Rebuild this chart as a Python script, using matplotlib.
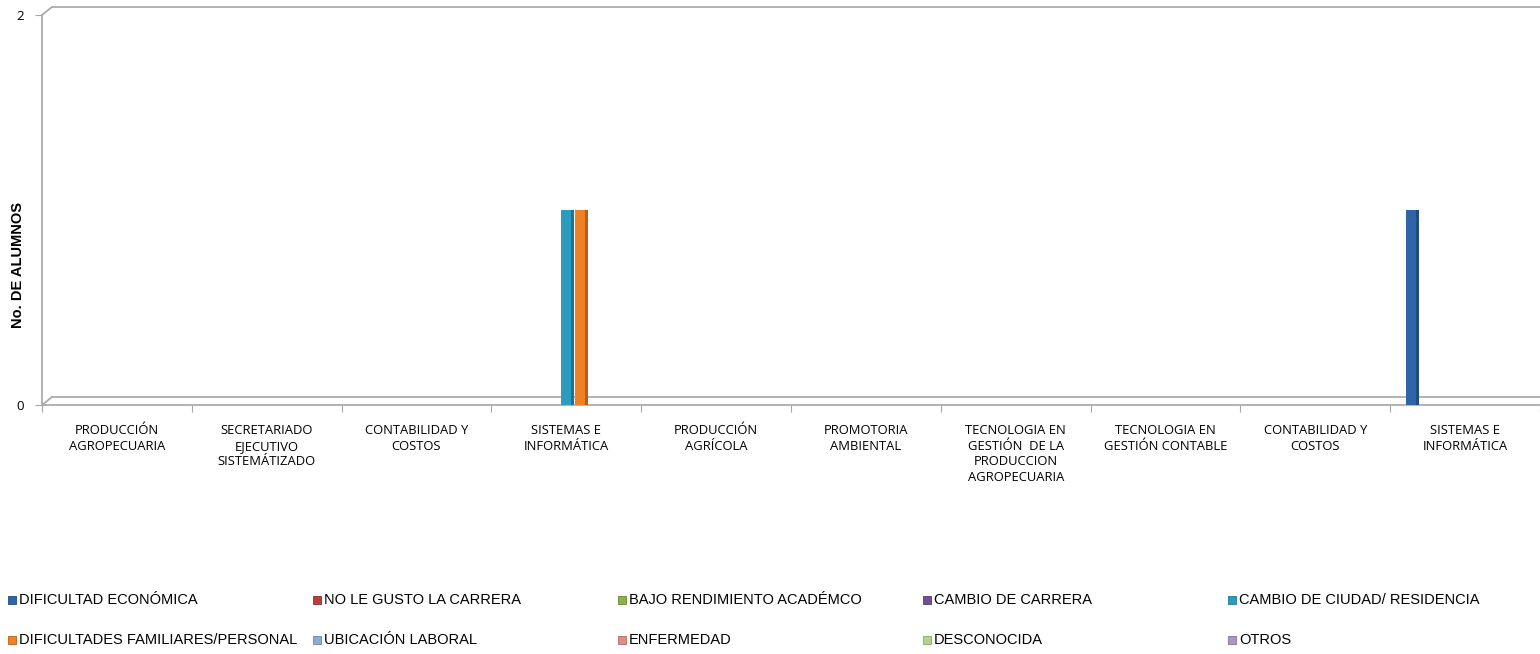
import numpy as np
import matplotlib
matplotlib.use("Agg")
import matplotlib.pyplot as plt
from matplotlib.patches import Rectangle
from matplotlib.transforms import offset_copy

categorias = ["PRODUCCIÓN\nAGROPECUARIA", "SECRETARIADO\nEJECUTIVO\nSISTEMÁTIZADO",
              "CONTABILIDAD Y\nCOSTOS", "SISTEMAS E\nINFORMÁTICA", "PRODUCCIÓN\nAGRÍCOLA",
              "PROMOTORIA\nAMBIENTAL",
              "TECNOLOGIA EN\nGESTIÓN  DE LA\nPRODUCCION\nAGROPECUARIA",
              "TECNOLOGIA EN\nGESTIÓN CONTABLE", "CONTABILIDAD Y\nCOSTOS",
              "SISTEMAS E\nINFORMÁTICA"]

series = ["DIFICULTAD ECONÓMICA", "NO LE GUSTO LA CARRERA", "BAJO RENDIMIENTO ACADÉMCO",
          "CAMBIO DE CARRERA", "CAMBIO DE CIUDAD/ RESIDENCIA",
          "DIFICULTADES FAMILIARES/PERSONAL", "UBICACIÓN LABORAL", "ENFERMEDAD",
          "DESCONOCIDA", "OTROS"]

dificultad_economica = [0, 0, 0, 0, 0, 0, 0, 0, 0, 1]
no_le_gusto = [0, 0, 0, 0, 0, 0, 0, 0, 0, 0]
bajo_rendimiento = [0, 0, 0, 0, 0, 0, 0, 0, 0, 0]
cambio_carrera = [0, 0, 0, 0, 0, 0, 0, 0, 0, 0]
cambio_ciudad = [0, 0, 0, 1, 0, 0, 0, 0, 0, 0]
dif_familiares = [0, 0, 0, 1, 0, 0, 0, 0, 0, 0]
ubicacion_laboral = [0, 0, 0, 0, 0, 0, 0, 0, 0, 0]
enfermedad = [0, 0, 0, 0, 0, 0, 0, 0, 0, 0]
desconocida = [0, 0, 0, 0, 0, 0, 0, 0, 0, 0]
otros = [0, 0, 0, 0, 0, 0, 0, 0, 0, 0]

valores = [dificultad_economica, no_le_gusto, bajo_rendimiento, cambio_carrera, cambio_ciudad,
           dif_familiares, ubicacion_laboral, enfermedad, desconocida, otros]

colores = ["#2F64A8", "#B8413E", "#8CB04A", "#6E5393", "#2B9CBD",
           "#F08025", "#8FAAD2", "#D98E8C", "#B9D08E", "#A996C2"]
oscuros = ["#1F4A82", "#8A2D2B", "#66852F", "#503B70", "#1C7590",
           "#B85E17", "#6885B0", "#B06866", "#8FA865", "#82709C"]

fig = plt.figure(figsize=(15.4, 6.54), dpi=100)
ax = fig.add_axes([42/1540, 1 - 405/654, 1 - 42/1540, 390/654])

gris = "#A6A6A6"
x = np.arange(len(categorias))
w = 0.09
for s in range(len(series)):
    off = (s - 4.5) * w + 0.055
    v = np.array(valores[s])
    ax.bar(x + off, v, width=w * 0.98, color=colores[s], zorder=3)
    ax.bar(x + off + w * 0.36, v, width=w * 0.22, color=oscuros[s], zorder=4)

ax.set_xlim(-0.5, len(categorias) - 0.5)
ax.set_ylim(0, 2)
ax.set_yticks([0, 2])
ax.set_yticklabels(["0", "2"], fontsize=9.5, family="Open Sans")
ax.tick_params(axis="y", length=5, color=gris, pad=8)

ax.set_xticks(np.arange(len(categorias) + 1) - 0.5)
ax.set_xticklabels([])
ax.tick_params(axis="x", which="major", length=5, color=gris, direction="out")
ax.set_xticks(x, minor=True)
ax.set_xticklabels(categorias, minor=True, fontsize=9.4, family="Open Sans", linespacing=1.25)
ax.tick_params(axis="x", which="minor", length=0, pad=14)

for sp in ["top", "right"]:
    ax.spines[sp].set_visible(False)
ax.spines["left"].set_color(gris)
ax.spines["bottom"].set_color(gris)
ax.spines["left"].set_linewidth(1.2)
ax.spines["bottom"].set_linewidth(1.2)

# marco 3D (pared y piso del fondo)
tb = offset_copy(ax.transAxes, fig=fig, x=10, y=8, units="dots")
ax.plot([0, 1.01], [1, 1], color=gris, lw=1.2, transform=tb, clip_on=False)
ax.plot([0, 1.01], [0, 0], color=gris, lw=1.2, transform=tb, clip_on=False)
ax.annotate("", xy=(0, 1), xycoords=tb, xytext=(0, 1), textcoords=ax.transAxes,
            arrowprops=dict(arrowstyle="-", color=gris, lw=1.2, shrinkA=0, shrinkB=0))
ax.annotate("", xy=(0, 0), xycoords=tb, xytext=(0, 0), textcoords=ax.transAxes,
            arrowprops=dict(arrowstyle="-", color=gris, lw=1.2, shrinkA=0, shrinkB=0))

fig.text(18/1540, 1 - 265/654, "No. DE ALUMNOS", rotation=90, ha="center", va="center",
         fontsize=10.5, fontweight="bold", family="Liberation Sans")

# leyenda en cuadricula de 5 columnas
for i, nombre in enumerate(series):
    col = i % 5
    fila = i // 5
    px = 8 + col * 305
    py = 600 + fila * 40
    fig.add_artist(Rectangle((px / 1540, 1 - (py + 4) / 654), 8 / 1540, 8 / 654,
                             transform=fig.transFigure, facecolor=colores[i],
                             edgecolor=oscuros[i], lw=0.6))
    fig.text((px + 11) / 1540, 1 - py / 654, nombre, ha="left", va="center",
             fontsize=10.5, family="Liberation Sans")

fig.savefig("out.png", dpi=100)
